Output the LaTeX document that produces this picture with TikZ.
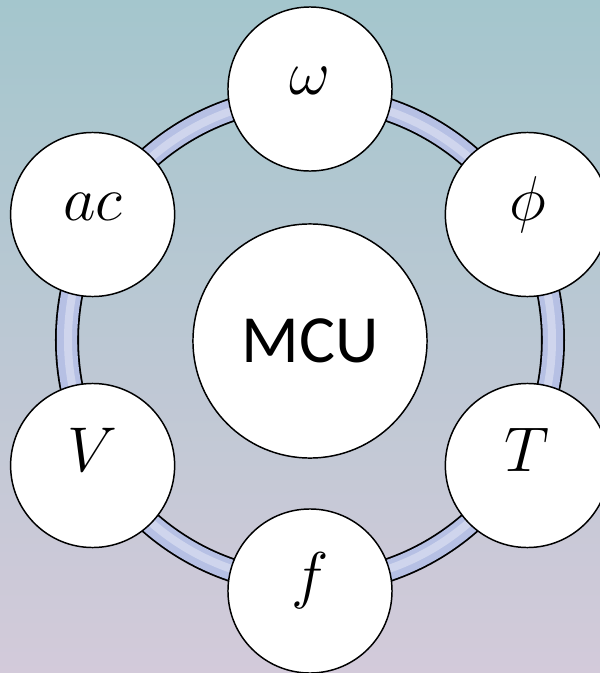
\documentclass[tikz,border=0pt]{standalone}
\usepackage{fix-cm}
\usepackage{fontspec}
\newfontfamily\mcufont{Carlito}
\definecolor{bgtop}{RGB}{164,198,205}
\definecolor{bgbottom}{RGB}{211,202,218}
\definecolor{ringblue}{RGB}{182,192,228}
\begin{document}
\begin{tikzpicture}[x=0.025cm, y=0.025cm, line join=round, line cap=round,
		ball/.style={circle, draw=black, fill=white, line width=1.05pt, minimum size=4.1cm, inner sep=0pt},
		core/.style={ball, minimum size=5.85cm},
		sym/.style={anchor=base, font=\fontsize{45}{45}\selectfont}]
			\useasboundingbox (-310,-333) rectangle (290,340);
			\shade[top color=bgtop, bottom color=bgbottom] (-310,-333) rectangle (290,340);
			% the ring
			\draw[black, line width=0.6cm] (0,0) circle (243);
			\draw[ringblue, line width=0.51cm] (0,0) circle (243);
			\draw[white, opacity=.35, line width=0.2cm] (0,0) circle (242);
			% the six quantities
			\node[ball] (om) at (90:251) {};
			\node[ball] (phi) at (30:251) {};
			\node[ball] (per) at (-30:251) {};
			\node[ball] (fr) at (-90:251) {};
			\node[ball] (vel) at (-150:251) {};
			\node[ball] (acc) at (150:251) {};
			\node[sym] (om-t) at ([yshift=-0.14cm]om.center) {$\omega$};
			\node[sym] (phi-t) at ([yshift=-0.14cm]phi.center) {$\phi$};
			\node[sym] (per-t) at ([yshift=-0.14cm]per.center) {$T$};
			\node[sym] (fr-t) at ([yshift=-0.14cm]fr.center) {$f$};
			\node[sym] (vel-t) at ([yshift=-0.14cm]vel.center) {$V$};
			\node[sym] (acc-t) at ([yshift=-0.14cm]acc.center) {$ac$};
			% center
			\node[core, font=\mcufont\fontsize{48}{48}\selectfont] (mcu) at (0,-1) {MCU};
		\end{tikzpicture}
\end{document}
